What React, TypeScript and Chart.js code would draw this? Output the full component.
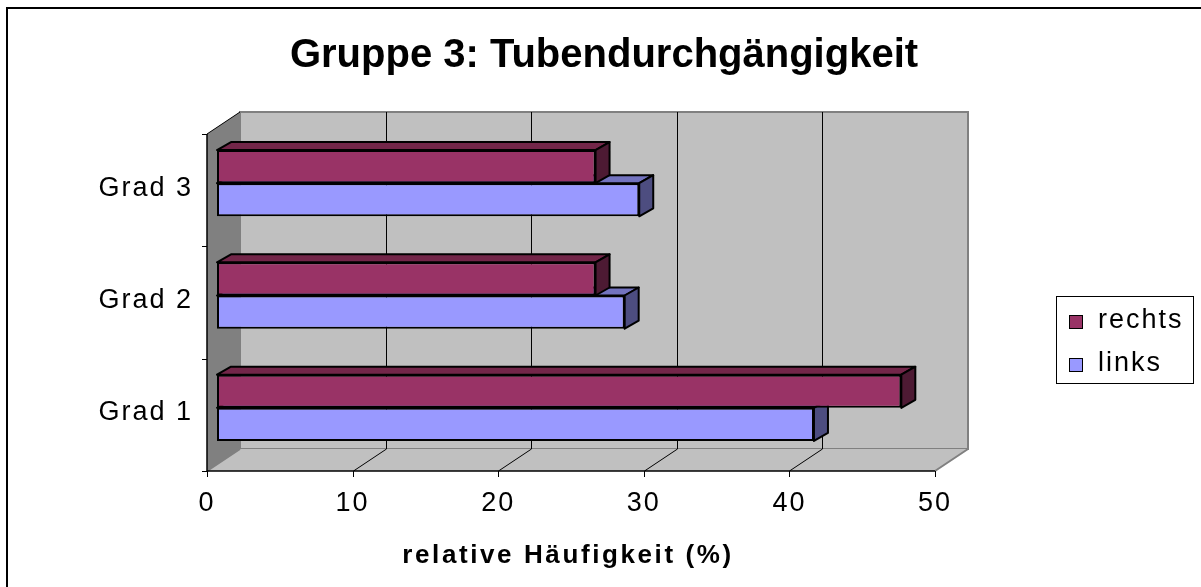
import React, { useEffect, useRef } from 'react';
import { Chart, registerables } from 'chart.js';

Chart.register(...registerables);

// ---- data ----
const categories = ['Grad 3', 'Grad 2', 'Grad 1'];
const rechts = [26, 26, 47];
const links = [29, 28, 41];
const seriesNames = ['rechts', 'links'];
const xTicks = [0, 10, 20, 30, 40, 50];
const chartTitle = 'Gruppe 3: Tubendurchgängigkeit';
const xTitle = 'relative Häufigkeit (%)';

// ---- styles ----
const FONT = '"Liberation Sans", Arial, Helvetica, sans-serif';
const FRONT_COLORS = ['#993366', '#9999FF'];
const TOP_COLORS = ['#732649', '#7373BF'];
const SIDE_COLORS = ['#4D1A33', '#4D4D80'];
const FRONT_DX = -10;
const FRONT_DY = 7;
const BACK_DX = 23;
const BACK_DY = -15;
const BAR_DX = 14;
const BAR_DY = 8;
const SPACING = '2px';
const LABEL_SIZE = 27;

const threeD = {
  id: 'threeD',
  beforeDraw(chart: any) {
    const ctx = chart.ctx as CanvasRenderingContext2D;
    const xs = chart.scales.x;
    const ca = chart.chartArea;
    const minV = xTicks[0];
    const maxV = xTicks[xTicks.length - 1];
    const x0 = xs.getPixelForValue(minV);
    const x1 = xs.getPixelForValue(maxV);
    const fTop = ca.top + FRONT_DY;
    const fBot = ca.bottom + FRONT_DY;
    const bTop = ca.top + BACK_DY;
    const bBot = ca.bottom + BACK_DY;

    ctx.save();
    // outer frame
    ctx.strokeStyle = '#000';
    ctx.lineWidth = 2;
    ctx.strokeRect(7, 8, 1400, 800);

    // back wall
    ctx.fillStyle = '#C0C0C0';
    ctx.fillRect(x0 + BACK_DX, bTop, x1 - x0, bBot - bTop);
    ctx.strokeStyle = '#808080';
    ctx.lineWidth = 2;
    ctx.beginPath();
    ctx.moveTo(x0 + BACK_DX, bBot);
    ctx.lineTo(x0 + BACK_DX, bTop);
    ctx.lineTo(x1 + BACK_DX, bTop);
    ctx.lineTo(x1 + BACK_DX, bBot);
    ctx.lineTo(x0 + BACK_DX, bBot);
    ctx.stroke();

    // left wall
    ctx.fillStyle = '#808080';
    ctx.beginPath();
    ctx.moveTo(x0 + FRONT_DX, fTop);
    ctx.lineTo(x0 + BACK_DX, bTop);
    ctx.lineTo(x0 + BACK_DX, bBot);
    ctx.lineTo(x0 + FRONT_DX, fBot);
    ctx.closePath();
    ctx.fill();
    ctx.strokeStyle = '#000';
    ctx.lineWidth = 1;
    ctx.beginPath();
    ctx.moveTo(x0 + FRONT_DX, fTop);
    ctx.lineTo(x0 + BACK_DX, bTop);
    ctx.stroke();

    // floor
    ctx.fillStyle = '#C0C0C0';
    ctx.beginPath();
    ctx.moveTo(x0 + FRONT_DX, fBot);
    ctx.lineTo(x0 + BACK_DX, bBot);
    ctx.lineTo(x1 + BACK_DX, bBot);
    ctx.lineTo(x1 + FRONT_DX, fBot);
    ctx.closePath();
    ctx.fill();
    ctx.strokeStyle = '#808080';
    ctx.lineWidth = 2;
    ctx.beginPath();
    ctx.moveTo(x0 + FRONT_DX, fBot);
    ctx.lineTo(x0 + BACK_DX, bBot);
    ctx.moveTo(x1 + BACK_DX, bBot);
    ctx.lineTo(x1 + FRONT_DX, fBot);
    ctx.stroke();

    // grid lines on back wall and floor
    ctx.strokeStyle = '#000';
    ctx.lineWidth = 1;
    xTicks.forEach((v) => {
      if (v === minV || v === maxV) return;
      const px = Math.round(xs.getPixelForValue(v)) + 0.5;
      ctx.beginPath();
      ctx.moveTo(px + BACK_DX, bTop);
      ctx.lineTo(px + BACK_DX, bBot);
      ctx.moveTo(px + BACK_DX, bBot);
      ctx.lineTo(px + FRONT_DX, fBot);
      ctx.stroke();
    });

    // front axes
    ctx.lineWidth = 1.5;
    ctx.beginPath();
    ctx.moveTo(x0 + FRONT_DX, fTop);
    ctx.lineTo(x0 + FRONT_DX, fBot);
    ctx.lineTo(x1 + FRONT_DX, fBot);
    ctx.stroke();
    ctx.lineWidth = 1;
    xTicks.forEach((v) => {
      const px = Math.round(xs.getPixelForValue(v) + FRONT_DX) + 0.5;
      ctx.beginPath();
      ctx.moveTo(px, fBot);
      ctx.lineTo(px, fBot + 6);
      ctx.stroke();
    });
    const n = categories.length;
    for (let i = 0; i <= n; i++) {
      const py = Math.round(fTop + ((fBot - fTop) * i) / n) + 0.5;
      ctx.beginPath();
      ctx.moveTo(x0 + FRONT_DX - 5, py);
      ctx.lineTo(x0 + FRONT_DX, py);
      ctx.stroke();
    }
    ctx.restore();

    // letter spacing for the library-drawn tick labels
    (ctx as any).letterSpacing = SPACING;
  },
  beforeDatasetsDraw(chart: any) {
    const ctx = chart.ctx as CanvasRenderingContext2D;
    ctx.save();
    ctx.lineWidth = 2;
    ctx.lineJoin = 'round';
    ctx.strokeStyle = '#000';
    for (let d = chart.data.datasets.length - 1; d >= 0; d--) {
      const meta = chart.getDatasetMeta(d);
      meta.data.forEach((el: any) => {
        const p = el.getProps(['x', 'y', 'base', 'height'], true);
        const left = Math.min(p.base, p.x);
        const right = Math.max(p.base, p.x);
        const top = p.y - p.height / 2;
        const bottom = p.y + p.height / 2;
        // top face
        ctx.fillStyle = TOP_COLORS[d];
        ctx.beginPath();
        ctx.moveTo(left, top);
        ctx.lineTo(left + BAR_DX, top - BAR_DY);
        ctx.lineTo(right + BAR_DX, top - BAR_DY);
        ctx.lineTo(right, top);
        ctx.closePath();
        ctx.fill();
        ctx.stroke();
        // side face
        ctx.fillStyle = SIDE_COLORS[d];
        ctx.beginPath();
        ctx.moveTo(right, top);
        ctx.lineTo(right + BAR_DX, top - BAR_DY);
        ctx.lineTo(right + BAR_DX, bottom - BAR_DY);
        ctx.lineTo(right, bottom);
        ctx.closePath();
        ctx.fill();
        ctx.stroke();
      });
    }
    ctx.restore();
  },
  afterDraw(chart: any) {
    const ctx = chart.ctx as CanvasRenderingContext2D;
    ctx.save();
    ctx.fillStyle = '#000';
    // title
    (ctx as any).letterSpacing = '0px';
    ctx.font = `bold 40px ${FONT}`;
    ctx.textAlign = 'center';
    ctx.textBaseline = 'alphabetic';
    ctx.fillText(chartTitle, 604, 67);

    // x axis title
    (ctx as any).letterSpacing = '2.6px';
    ctx.font = `bold 26px ${FONT}`;
    ctx.fillText(xTitle, 568, 563);

    // legend
    ctx.strokeStyle = '#000';
    ctx.lineWidth = 1;
    ctx.strokeRect(1056.5, 296.5, 137, 87);
    (ctx as any).letterSpacing = SPACING;
    ctx.font = `${LABEL_SIZE}px ${FONT}`;
    ctx.textAlign = 'left';
    chart.data.datasets.forEach((ds: any, i: number) => {
      const sy = 315 + i * 43;
      ctx.fillStyle = ds.backgroundColor;
      ctx.fillRect(1069.5, sy + 0.5, 13, 13);
      ctx.strokeRect(1069.5, sy + 0.5, 13, 13);
      ctx.fillStyle = '#000';
      ctx.fillText(ds.label, 1098, sy + 12.5);
    });
    ctx.restore();
  },
};

export default function App() {
  const ref = useRef<HTMLCanvasElement | null>(null);
  useEffect(() => {
    if (!ref.current) return;
    const chart = new Chart(ref.current, {
      type: 'bar',
      data: {
        labels: categories,
        datasets: [
          {
            label: seriesNames[0],
            data: rechts,
            backgroundColor: FRONT_COLORS[0],
            borderColor: '#000',
            borderWidth: 2,
            borderSkipped: false,
          },
          {
            label: seriesNames[1],
            data: links,
            backgroundColor: FRONT_COLORS[1],
            borderColor: '#000',
            borderWidth: 2,
            borderSkipped: false,
          },
        ],
      },
      options: {
        indexAxis: 'y',
        responsive: false,
        animation: false,
        events: [],
        categoryPercentage: 0.59,
        barPercentage: 1,
        layout: { padding: { left: 7, top: 127, right: 256, bottom: 0 } },
        plugins: {
          legend: { display: false },
          title: { display: false },
          tooltip: { enabled: false },
        },
        scales: {
          x: {
            type: 'linear',
            min: xTicks[0],
            max: xTicks[xTicks.length - 1],
            grid: { display: false, drawTicks: false },
            border: { display: false },
            afterBuildTicks: (s: any) => {
              s.ticks = xTicks.map((v) => ({ value: v }));
            },
            afterFit: (s: any) => {
              s.height = 123;
            },
            ticks: {
              color: '#000',
              font: { family: FONT, size: LABEL_SIZE },
              padding: 23,
              labelOffset: FRONT_DX,
              maxRotation: 0,
              autoSkip: false,
            },
          },
          y: {
            type: 'category',
            grid: { display: false, drawTicks: false },
            border: { display: false },
            afterFit: (s: any) => {
              s.width = 210;
            },
            ticks: {
              color: '#000',
              font: { family: FONT, size: LABEL_SIZE },
              padding: 24,
              labelOffset: 5,
            },
          },
        },
      } as any,
      plugins: [threeD],
    });
    return () => chart.destroy();
  }, []);
  return (
    <div style={{ position: 'absolute', left: 0, top: 0, width: 1201, height: 587, background: '#fff' }}>
      <canvas ref={ref} width={1201} height={587} style={{ display: 'block' }} />
    </div>
  );
}
